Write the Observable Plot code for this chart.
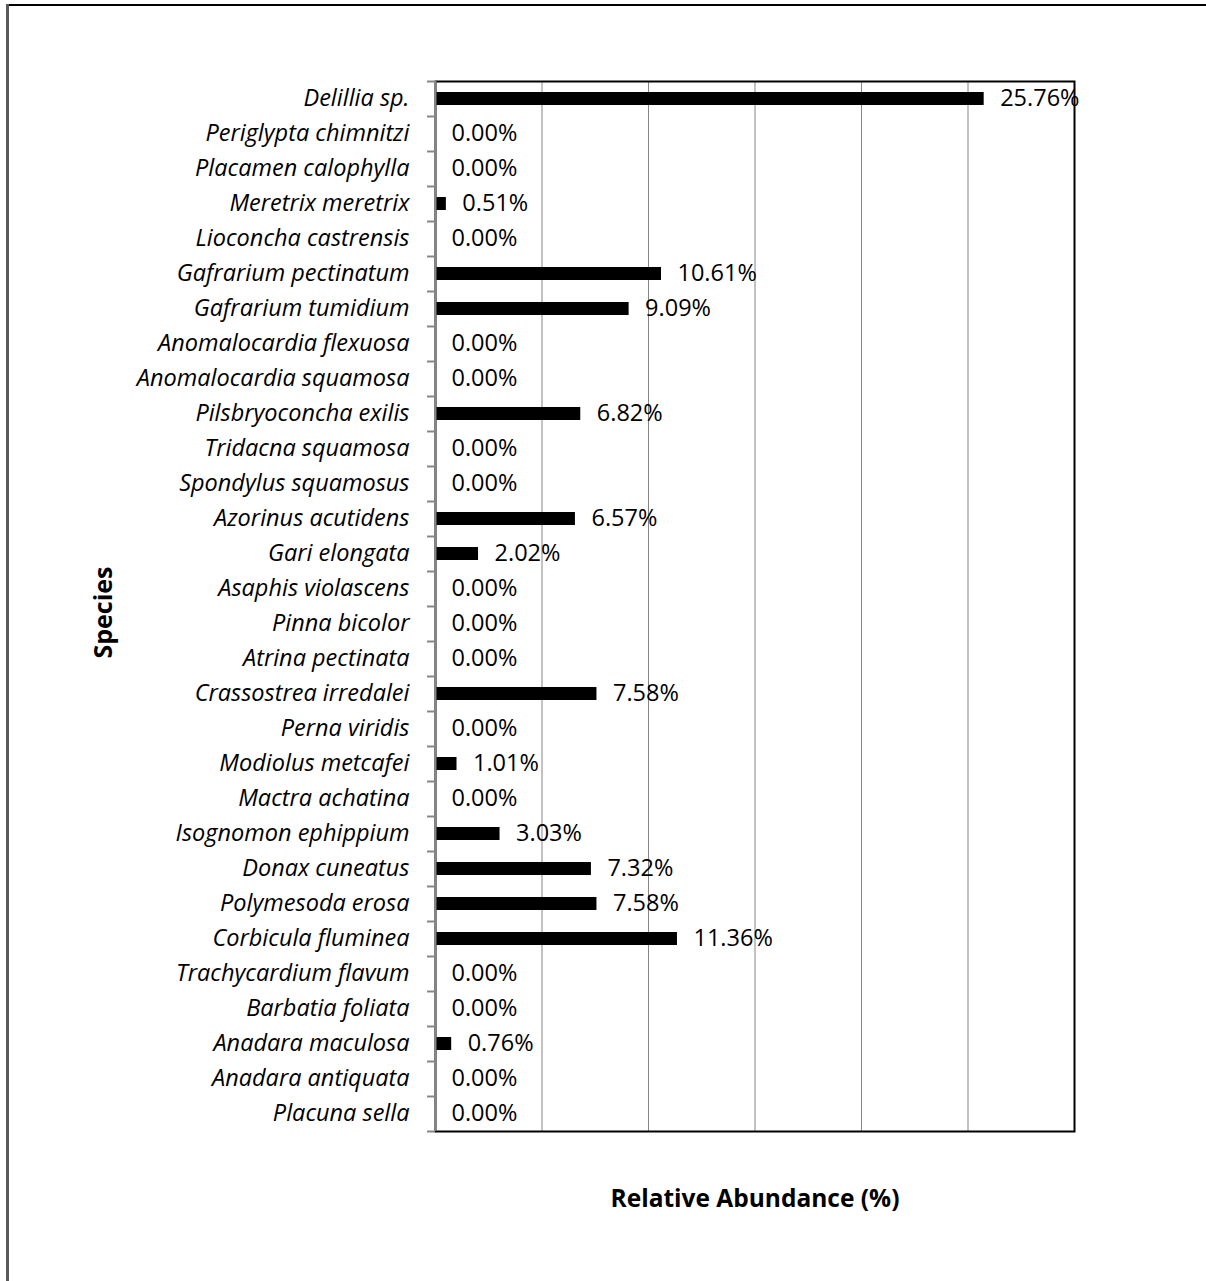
<!DOCTYPE html>
<html>
<head>
<meta charset="utf-8">
<script src="https://cdn.jsdelivr.net/npm/d3@7"></script>
<script src="https://cdn.jsdelivr.net/npm/@observablehq/plot@0.6"></script>
<style>
  html, body { margin: 0; padding: 0; background: #fff; }
  #wrap { position: relative; width: 1206px; height: 1281px; overflow: hidden; }
  #wrap svg { position: absolute; left: 0; top: 0; }
  .edge-top { position: absolute; left: 6px; top: 4px; width: 1200px; height: 2px; background: #000; }
  .edge-left { position: absolute; left: 6px; top: 4px; width: 3px; height: 1277px; background: #595959; }
</style>
</head>
<body>
<div id="wrap">
  <div class="edge-top"></div>
  <div class="edge-left"></div>
</div>
<script>
// Bivalve species, top to bottom as listed on the chart
const species = [
  "Delillia sp.",
  "Periglypta chimnitzi",
  "Placamen calophylla",
  "Meretrix meretrix",
  "Lioconcha castrensis",
  "Gafrarium pectinatum",
  "Gafrarium tumidium",
  "Anomalocardia flexuosa",
  "Anomalocardia squamosa",
  "Pilsbryoconcha exilis",
  "Tridacna squamosa",
  "Spondylus squamosus",
  "Azorinus acutidens",
  "Gari elongata",
  "Asaphis violascens",
  "Pinna bicolor",
  "Atrina pectinata",
  "Crassostrea irredalei",
  "Perna viridis",
  "Modiolus metcafei",
  "Mactra achatina",
  "Isognomon ephippium",
  "Donax cuneatus",
  "Polymesoda erosa",
  "Corbicula fluminea",
  "Trachycardium flavum",
  "Barbatia foliata",
  "Anadara maculosa",
  "Anadara antiquata",
  "Placuna sella"
];

// Relative abundance (%) per species
const abundance = [
  25.76, 0.00, 0.00, 0.51, 0.00, 10.61, 9.09, 0.00, 0.00, 6.82,
  0.00, 0.00, 6.57, 2.02, 0.00, 0.00, 0.00, 7.58, 0.00, 1.01,
  0.00, 3.03, 7.32, 7.58, 11.36, 0.00, 0.00, 0.76, 0.00, 0.00
];

const gridValues = [5, 10, 15, 20, 25];
const xMax = 30;
const xTitle = "Relative Abundance (%)";
const yTitle = "Species";

const rows = species.map((s, i) => ({species: s, value: abundance[i]}));
const font = "'Open Sans', sans-serif";

const chart = Plot.plot({
  width: 1206,
  height: 1281,
  marginLeft: 435,
  marginRight: 132,
  marginTop: 81,
  marginBottom: 150,
  style: {fontFamily: font, background: "transparent", overflow: "visible"},
  x: {domain: [0, xMax], axis: null},
  y: {domain: species, padding: 0, axis: null},
  marks: [
    // vertical gridlines
    Plot.ruleX(gridValues, {stroke: "#868686", strokeWidth: 1}),
    // bars
    Plot.barX(rows, {x: "value", y: "species", fill: "#000", insetTop: 11, insetBottom: 11}),
    // plot area outline (top, right, bottom)
    Plot.frame({stroke: "#000", strokeWidth: 2}),
    // category boundary ticks on the left axis
    Plot.axisY({tickSize: 8, text: null, label: null, dy: -17.5, stroke: "#868686", strokeWidth: 2}),
    Plot.axisY([species[species.length - 1]], {tickSize: 8, text: null, label: null, dy: 17.5, stroke: "#868686", strokeWidth: 2}),
    // left axis line
    Plot.ruleX([0], {stroke: "#868686", strokeWidth: 2}),
    // species names
    Plot.axisY({tickSize: 0, tickPadding: 26, label: null, fontSize: 23.5, fontStyle: "italic", fill: "#000", dy: -1}),
    // value labels
    Plot.text(rows, {
      x: "value", y: "species",
      text: d => d.value.toFixed(2) + "%",
      dx: 16, dy: -1, textAnchor: "start", fontSize: 23.5, fill: "#000"
    }),
    // axis titles
    Plot.text([xTitle], {
      frameAnchor: "bottom", textAnchor: "middle", lineAnchor: "middle",
      dy: 68, fontSize: 24.5, fontWeight: "bold", fill: "#000"
    }),
    Plot.text([yTitle], {
      frameAnchor: "left", textAnchor: "middle", lineAnchor: "middle",
      dx: -332, dy: 6, rotate: -90, fontSize: 25, fontWeight: "bold", fill: "#000"
    })
  ]
});

document.getElementById("wrap").appendChild(chart);
</script>
</body>
</html>
